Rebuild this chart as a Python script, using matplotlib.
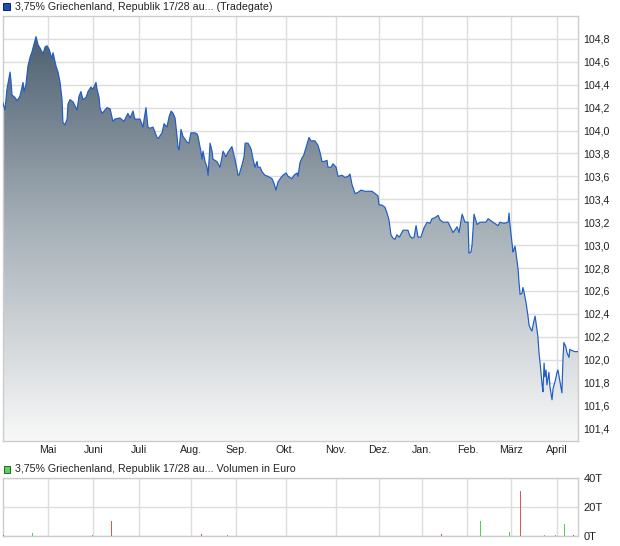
import matplotlib
matplotlib.use("Agg")
import matplotlib.pyplot as plt
import numpy as np
from matplotlib.colors import LinearSegmentedColormap
from matplotlib.patches import Rectangle

plt.rcParams["font.family"] = ["Liberation Sans", "DejaVu Sans"]

# ── price series (x = trading day since start, y = price) ──────────────────
days = [
    0.0, 0.9, 1.8, 3.2, 3.6, 4.1, 5.4, 6.4, 7.7, 9.1, 9.5, 10.4, 11.3, 12.3, 13.2, 13.6,
    15.0, 15.9, 16.8, 18.2, 19.1, 20.0, 20.9, 22.2, 22.7, 24.1, 25.0, 25.9, 26.8, 27.2,
    28.1, 29.1, 29.5, 30.4, 31.8, 33.6, 34.5, 35.4, 36.3, 37.7, 38.6, 39.9, 40.8, 42.2,
    42.7, 43.6,
    44.0, 44.9, 45.4, 47.2, 48.6, 49.9, 50.8, 53.1, 54.9, 56.7, 57.7, 59.0, 59.9, 62.2,
    63.5, 64.9, 65.8, 66.7, 68.1, 69.9, 70.4, 72.2, 73.1, 74.4, 75.4, 76.3, 77.2, 78.1,
    79.0, 79.4, 79.9, 80.8, 81.7, 83.5, 84.4, 85.3, 87.2,
    88.1, 88.5, 89.9, 90.3, 90.8, 91.7, 92.6, 93.1, 94.0, 94.9, 95.3, 97.1, 98.5, 99.9,
    101.2, 102.1, 103.9, 104.4, 105.3, 106.7, 107.1, 108.5, 109.4, 109.9, 111.2, 112.6,
    113.5, 114.4, 115.3, 115.7, 116.7, 117.6, 118.9, 120.3, 122.1, 123.0, 123.9, 124.8,
    126.2, 127.1, 128.5, 129.4, 131.2, 132.1, 133.5,
    133.9, 134.8, 135.7, 136.6, 138.0, 138.9, 139.8, 141.6, 143.0, 143.9, 144.8, 145.7,
    147.1, 147.5, 148.9, 149.8, 151.2, 152.1, 153.9, 155.2, 156.6, 157.5, 158.4, 159.8,
    161.1, 162.5, 164.3, 165.7, 167.5, 168.9, 170.2, 170.7, 172.0, 173.4, 174.3, 175.2,
    176.1, 177.0, 177.9, 178.8, 179.8,
    180.2, 181.6, 183.8, 184.7, 185.7, 186.6, 187.5, 188.4, 189.7, 191.1, 192.5, 193.8,
    194.7, 196.1, 197.5, 198.4, 199.7, 202.0, 204.3, 206.1, 207.0, 208.4, 209.7, 211.1,
    211.5, 212.4, 212.9, 213.8, 215.2, 216.5, 217.9, 219.2, 220.2, 222.4, 224.7, 225.6,
    227.4,
    229.3, 229.7, 230.1, 231.0, 231.5, 231.9, 232.4, 232.8, 233.8, 234.2, 234.7, 235.6,
    236.0, 236.5, 237.4, 238.3, 238.8, 239.7, 240.1, 240.6, 241.5, 241.9, 242.8, 243.3,
    243.8, 244.7, 245.1, 245.6, 246.0, 246.5, 246.9, 247.8, 248.3, 249.2, 249.7, 250.6,
    251.5, 251.9, 252.8, 253.7, 254.2, 254.6, 255.5, 256.0, 256.9, 257.3, 258.2, 259.6,
    261.0,
]
prices = [
    104.24, 104.18, 104.36, 104.51, 104.44, 104.31, 104.29, 104.26, 104.30, 104.42, 104.34,
    104.40, 104.56, 104.64, 104.69, 104.72, 104.82, 104.75, 104.72, 104.67, 104.73, 104.74,
    104.71, 104.63, 104.68, 104.56, 104.51, 104.42, 104.27, 104.07, 104.05, 104.10, 104.23,
    104.27, 104.25, 104.18, 104.30, 104.34, 104.27, 104.29, 104.34, 104.38, 104.36, 104.42,
    104.36, 104.29,
    104.20, 104.15, 104.16, 104.20, 104.19, 104.08, 104.10, 104.11, 104.08, 104.15, 104.11,
    104.17, 104.10, 104.10, 104.03, 104.20, 104.03, 104.02, 104.03, 103.94, 103.93, 103.98,
    104.06, 104.03, 104.12, 104.17, 104.15, 104.11, 103.95, 103.86, 103.83, 104.01, 103.95,
    103.90, 103.89, 103.98, 103.98,
    103.97, 103.95, 103.81, 103.75, 103.82, 103.73, 103.68, 103.61, 103.89, 103.82, 103.75,
    103.73, 103.68, 103.82, 103.77, 103.81, 103.86, 103.82, 103.75, 103.61, 103.61, 103.70,
    103.77, 103.89, 103.89, 103.84, 103.75, 103.68, 103.73, 103.68, 103.68, 103.64, 103.61,
    103.60, 103.58, 103.54, 103.48, 103.55, 103.59, 103.61, 103.63, 103.60, 103.58, 103.61,
    103.63,
    103.60, 103.72, 103.76, 103.79, 103.88, 103.94, 103.91, 103.91, 103.87, 103.81, 103.73,
    103.73, 103.74, 103.68, 103.68, 103.71, 103.68, 103.60, 103.61, 103.59, 103.60, 103.62,
    103.53, 103.45, 103.46, 103.48, 103.47, 103.47, 103.47, 103.45, 103.43, 103.35, 103.35,
    103.33, 103.28, 103.22, 103.09, 103.06, 103.05, 103.09, 103.07,
    103.08, 103.13, 103.13, 103.08, 103.06, 103.07, 103.17, 103.07, 103.07, 103.15, 103.20,
    103.19, 103.23, 103.24, 103.26, 103.22, 103.20, 103.20, 103.11, 103.16, 103.11, 103.27,
    103.20, 103.20, 102.93, 102.94, 103.00, 103.27, 103.18, 103.20, 103.20, 103.20, 103.23,
    103.20, 103.17, 103.20, 103.19,
    103.20, 103.28, 103.18, 103.03, 102.94, 102.96, 102.99, 102.94, 102.79, 102.68, 102.57,
    102.58, 102.63, 102.59, 102.50, 102.38, 102.30, 102.26, 102.25, 102.30, 102.38, 102.33,
    102.20, 102.06, 101.97, 101.78, 101.72, 101.97, 101.85, 101.91, 101.78, 101.89, 101.76,
    101.65, 101.75, 101.81, 101.89, 101.91, 101.81, 101.71, 102.02, 102.15, 102.11, 102.06,
    102.02, 102.09, 102.08, 102.07, 102.07,
]

month_pos = [20.3, 41.0, 61.9, 85.2, 105.9, 128.3, 151.0, 170.8, 190.1, 210.8, 230.7, 251.6]
month_labels = ["Mai", "Juni", "Juli", "Aug.", "Sep.", "Okt.", "Nov.", "Dez.",
                "Jan.", "Feb.", "März", "April"]
price_ticks = [101.4, 101.6, 101.8, 102.0, 102.2, 102.4, 102.6, 102.8,
               103.0, 103.2, 103.4, 103.6, 103.8, 104.0, 104.2, 104.4, 104.6, 104.8]

# ── volume (thousand euro) ─────────────────────────────────────────────────
vol_days = [0.0, 13.3, 40.3, 49.2, 90.1, 101.8, 114.0, 195.8, 198.8, 216.4,
            229.7, 234.7, 245.6, 250.6, 254.7, 258.7]
vol_values = [0.5, 1.8, 1.0, 10.3, 1.4, 1.0, 0.3, 0.3, 1.4, 10.3,
              2.8, 31.0, 0.9, 0.9, 8.3, 0.4]
vol_dir = ["down", "up", "up", "down", "down", "up", "down", "up", "down", "up",
           "up", "down", "up", "up", "up", "down"]
vol_ticks = [0, 20, 40]

title_main = "3,75% Griechenland, Republik 17/28 au... (Tradegate)"
title_vol = "3,75% Griechenland, Republik 17/28 au... Volumen in Euro"

W, H = 620, 546
GRID = "#dddddd"
SPINE = "#cccccc"
TXT = "#222222"
FS = 7.7

fig = plt.figure(figsize=(W / 100, H / 100), dpi=100)
ax = fig.add_axes([3 / W, 1 - 441 / H, 575 / W, 425 / H])
axv = fig.add_axes([3 / W, 1 - 536 / H, 575 / W, 58 / H])

xmin, xmax = 0, 261
ymin, ymax = 101.29, 105.0

# ── price panel ────────────────────────────────────────────────────────────
ax.set_xlim(xmin, xmax)
ax.set_ylim(ymin, ymax)

cmap = LinearSegmentedColormap.from_list("fade", ["#f8f8f8", "#a7b1b8", "#45586a"])
grad = np.linspace(1, 0, 256).reshape(-1, 1)
img = ax.imshow(grad, extent=[xmin, xmax, ymin, ymax], aspect="auto",
                cmap=cmap, zorder=2, interpolation="bilinear")
poly = ax.fill_between(days, prices, ymin, color="none", lw=0, zorder=2)
img.set_clip_path(poly.get_paths()[0], transform=ax.transData)
ax.plot(days, prices, color="#1f5cc4", lw=0.85, zorder=3)

ax.set_xticks(month_pos)
ax.set_xticklabels(month_labels)
ax.set_yticks(price_ticks)
ax.set_yticklabels([f"{v:.1f}".replace(".", ",") for v in price_ticks])
ax.yaxis.tick_right()
ax.grid(True, color=GRID, lw=1.0, zorder=0)
ax.set_axisbelow(True)
ax.tick_params(axis="both", length=0, labelsize=FS, colors=TXT)
ax.tick_params(axis="y", pad=4)
ax.tick_params(axis="x", pad=3)
for s in ax.spines.values():
    s.set_color(SPINE)
    s.set_linewidth(1.0)

# ── volume panel ───────────────────────────────────────────────────────────
colors = {"up": "#55cc55", "down": "#dd5555"}
axv.vlines(vol_days, 0, vol_values, colors=[colors[d] for d in vol_dir],
           lw=0.72, antialiased=False, zorder=3)
axv.set_xlim(xmin, xmax)
axv.set_ylim(0, 40)
axv.set_xticks(month_pos)
axv.set_xticklabels([])
axv.set_yticks(vol_ticks)
axv.set_yticklabels([f"{v}T" for v in vol_ticks])
axv.yaxis.tick_right()
axv.grid(True, color=GRID, lw=1.0, zorder=0)
axv.set_axisbelow(True)
axv.tick_params(axis="both", length=0, labelsize=FS + 0.3, colors=TXT)
axv.tick_params(axis="y", pad=4)
for s in axv.spines.values():
    s.set_color(SPINE)
    s.set_linewidth(1.0)

# ── legend-like headers ────────────────────────────────────────────────────
fig.add_artist(Rectangle((3 / W, 1 - 10 / H), 7 / W, 7.5 / H, transform=fig.transFigure,
                         fc="#1e4fae", ec="#0c2660", lw=0.7))
fig.text(15 / W, 1 - 6.5 / H, title_main, va="center", ha="left", fontsize=FS, color=TXT)
fig.add_artist(Rectangle((3.5 / W, 1 - 472.5 / H), 6.5 / W, 7 / H, transform=fig.transFigure,
                         fc="#66cc66", ec="#1d6b1d", lw=0.7))
fig.text(15 / W, 1 - 468.5 / H, title_vol, va="center", ha="left", fontsize=FS, color=TXT)

fig.savefig("out.png", dpi=100)
